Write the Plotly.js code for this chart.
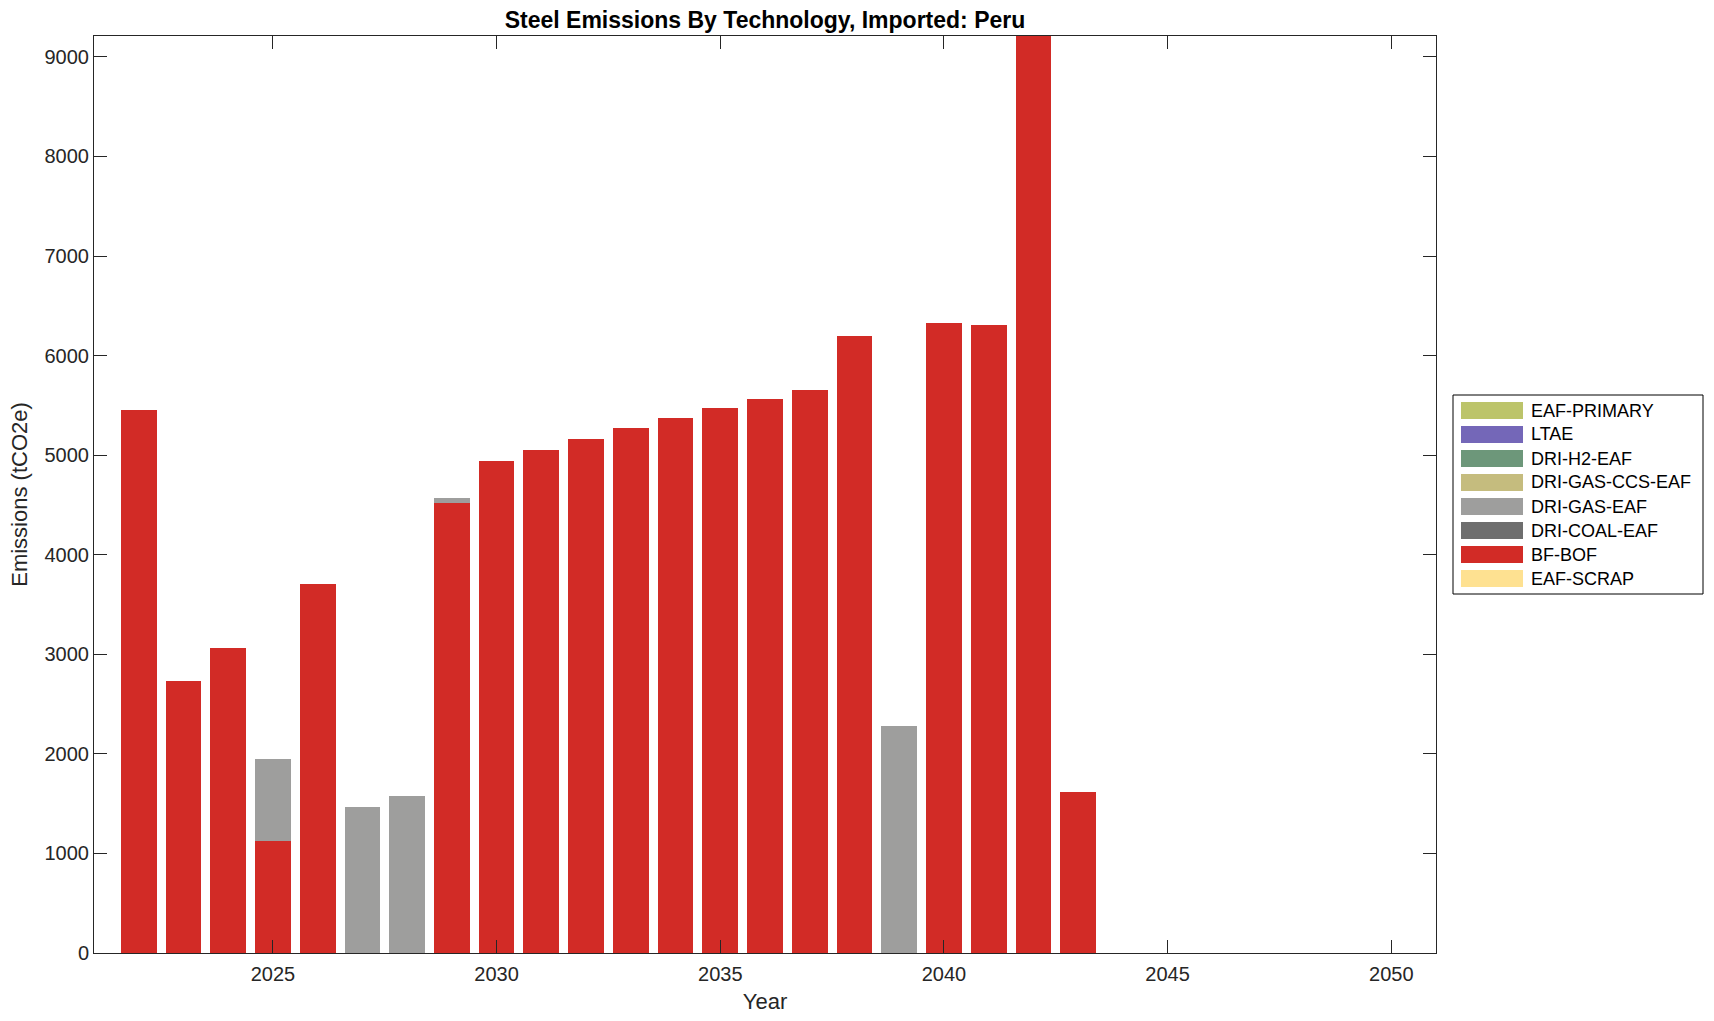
<!DOCTYPE html>
<html>
<head>
<meta charset="utf-8">
<script src="https://cdn.plot.ly/plotly-3.0.1.min.js"></script>
<style>
  html, body { margin: 0; padding: 0; background: #ffffff; }
  #chart { width: 1714px; height: 1021px; }
</style>
</head>
<body>
<div id="chart"></div>
<script>
// ---- Data ----
const years = [2022, 2023, 2024, 2025, 2026, 2027, 2028, 2029, 2030, 2031, 2032, 2033, 2034, 2035, 2036, 2037, 2038, 2039, 2040, 2041, 2042, 2043, 2044, 2045, 2046, 2047, 2048, 2049, 2050];

const eafScrap     = [0, 0, 0, 0, 0, 0, 0, 0, 0, 0, 0, 0, 0, 0, 0, 0, 0, 0, 0, 0, 0, 0, 0, 0, 0, 0, 0, 0, 0];
const bfBof        = [5456, 2734, 3065, 1127, 3705, 0, 0, 4521, 4943, 5050, 5163, 5274, 5378, 5475, 5568, 5656, 6195, 0, 6325, 6305, 9210, 1622, 0, 0, 0, 0, 0, 0, 0];
const driCoalEaf   = [0, 0, 0, 0, 0, 0, 0, 0, 0, 0, 0, 0, 0, 0, 0, 0, 0, 0, 0, 0, 0, 0, 0, 0, 0, 0, 0, 0, 0];
const driGasEaf    = [0, 0, 0, 821, 0, 1462, 1576, 47, 0, 0, 0, 0, 0, 0, 0, 0, 0, 2275, 0, 0, 0, 0, 0, 0, 0, 0, 0, 0, 0];
const driGasCcsEaf = [0, 0, 0, 0, 0, 0, 0, 0, 0, 0, 0, 0, 0, 0, 0, 0, 0, 0, 0, 0, 0, 0, 0, 0, 0, 0, 0, 0, 0];
const driH2Eaf     = [0, 0, 0, 0, 0, 0, 0, 0, 0, 0, 0, 0, 0, 0, 0, 0, 0, 0, 0, 0, 0, 0, 0, 0, 0, 0, 0, 0, 0];
const ltae         = [0, 0, 0, 0, 0, 0, 0, 0, 0, 0, 0, 0, 0, 0, 0, 0, 0, 0, 0, 0, 0, 0, 0, 0, 0, 0, 0, 0, 0];
const eafPrimary   = [0, 0, 0, 0, 0, 0, 0, 0, 0, 0, 0, 0, 0, 0, 0, 0, 0, 0, 0, 0, 0, 0, 0, 0, 0, 0, 0, 0, 0];

// stacking order: bottom to top
const seriesNames  = ["EAF-SCRAP", "BF-BOF", "DRI-COAL-EAF", "DRI-GAS-EAF", "DRI-GAS-CCS-EAF", "DRI-H2-EAF", "LTAE", "EAF-PRIMARY"];
const seriesValues = [eafScrap, bfBof, driCoalEaf, driGasEaf, driGasCcsEaf, driH2Eaf, ltae, eafPrimary];
const seriesColors = ["#FEE191", "#D22B26", "#6E6E6E", "#9E9E9D", "#C5BC7E", "#6D977A", "#7467B8", "#BCC46A"];

const xTicks = [2025, 2030, 2035, 2040, 2045, 2050];
const yTicks = [0, 1000, 2000, 3000, 4000, 5000, 6000, 7000, 8000, 9000];

const chartTitle = "Steel Emissions By Technology, Imported: Peru";
const xLabel = "Year";
const yLabel = "Emissions (tCO2e)";

// ---- Figure ----
const W = 1714, H = 1021;
const M = { l: 94, r: 278, t: 36, b: 68 };
const plotW = W - M.l - M.r, plotH = H - M.t - M.b;
const px2x = p => (p - M.l) / plotW;
const px2y = p => 1 - (p - M.t) / plotH;

const FONT = "Liberation Sans, Arial, Helvetica, sans-serif";
const INK = "#262626";

const traces = seriesNames.map((name, i) => ({
  type: "bar",
  name: name,
  x: years,
  y: seriesValues[i],
  width: 0.8,
  marker: { color: seriesColors[i], line: { width: 0 } },
  showlegend: false,
  hovertemplate: name + "<br>%{x}: %{y}<extra></extra>"
}));

// custom legend (MATLAB style wide swatches), top entry = top of stack
const shapes = [];
const annotations = [];
const legLeft = 1453, legRight = 1703, legTop = 395, legBottom = 594, rowH = 24, firstRow = 410.5;
const n = seriesNames.length;
shapes.push({
  type: "rect", xref: "paper", yref: "paper",
  x0: px2x(legLeft), x1: px2x(legRight),
  y0: px2y(legTop), y1: px2y(legBottom),
  line: { color: "#000000", width: 1 }, fillcolor: "#ffffff", layer: "above"
});
for (let k = 0; k < n; k++) {
  const idx = n - 1 - k;
  const cy = firstRow + k * rowH;
  shapes.push({
    type: "rect", xref: "paper", yref: "paper",
    x0: px2x(1461), x1: px2x(1523),
    y0: px2y(cy - 8.5), y1: px2y(cy + 8.5),
    line: { width: 0 }, fillcolor: seriesColors[idx], layer: "above"
  });
  annotations.push({
    xref: "paper", yref: "paper",
    x: px2x(1529), y: px2y(cy),
    xanchor: "left", yanchor: "middle",
    text: seriesNames[idx], showarrow: false,
    font: { family: FONT, size: 18, color: "#000000" }
  });
}

const layout = {
  width: W, height: H,
  margin: M,
  paper_bgcolor: "#ffffff",
  plot_bgcolor: "#ffffff",
  barmode: "stack",
  bargap: 0.2,
  showlegend: false,
  font: { family: FONT, color: INK },
  title: {
    text: "<b>" + chartTitle + "</b>",
    font: { family: FONT, size: 23, color: "#000000" },
    x: px2x(765), xref: "paper", xanchor: "center",
    y: 1 - 20 / H, yref: "container", yanchor: "middle"
  },
  xaxis: {
    range: [2021, 2051],
    tickvals: xTicks,
    ticktext: xTicks.map(String),
    ticks: "inside", ticklen: 13, tickwidth: 1, tickcolor: INK,
    ticklabelstandoff: 3,
    showline: true, linecolor: INK, linewidth: 1, mirror: "ticks",
    showgrid: false, zeroline: false,
    tickfont: { family: FONT, size: 20, color: INK },
    title: { text: xLabel, font: { family: FONT, size: 22, color: INK }, standoff: 9 }
  },
  yaxis: {
    range: [0, 9210],
    tickvals: yTicks,
    ticktext: yTicks.map(String),
    ticks: "inside", ticklen: 13, tickwidth: 1, tickcolor: INK,
    showline: true, linecolor: INK, linewidth: 1, mirror: "ticks",
    showgrid: false, zeroline: false,
    tickfont: { family: FONT, size: 20, color: INK },
    title: { text: yLabel, font: { family: FONT, size: 22, color: INK }, standoff: 10 }
  },
  shapes: shapes,
  annotations: annotations
};

Plotly.newPlot("chart", traces, layout, { displayModeBar: false, responsive: false });
</script>
</body>
</html>
